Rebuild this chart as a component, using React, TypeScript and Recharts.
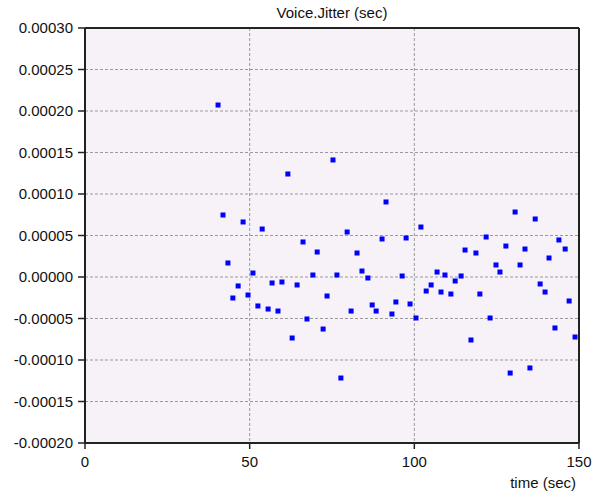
import { ScatterChart, Scatter, XAxis, YAxis, CartesianGrid, ReferenceLine } from 'recharts'

const title = 'Voice.Jitter (sec)'
const xLabel = 'time (sec)'

const xTicks = [0, 50, 100, 150]
const yTicks = [-0.0002, -0.00015, -0.0001, -0.00005, 0, 0.00005, 0.0001, 0.00015, 0.0002, 0.00025, 0.0003]

// time (sec)
const times = [
  40.4, 41.9, 43.4, 44.9, 46.5, 48.0, 49.5, 51.0, 52.5, 53.8,
  55.6, 56.8, 58.6, 59.8, 61.6, 62.9, 64.4, 66.2, 67.4, 69.2,
  70.5, 72.3, 73.5, 75.3, 76.5, 77.7, 79.6, 80.8, 82.6, 84.1,
  85.9, 87.2, 88.4, 90.2, 91.4, 93.2, 94.4, 96.3, 97.5, 98.7,
  100.5, 102.0, 103.6, 105.1, 106.9, 108.1, 109.3, 111.1, 112.4, 114.2,
  115.4, 117.2, 118.7, 119.9, 121.8, 123.0, 124.8, 126.0, 127.8, 129.1,
  130.6, 132.1, 133.6, 135.1, 136.7, 138.2, 139.7, 140.9, 142.7, 143.9,
  145.8, 147.0, 148.8,
]

// jitter (sec)
const jitter = [
  0.0002072, 0.0000747, 0.0000169, -0.0000253, -0.0000108, 0.0000663, -0.0000217, 0.0000048, -0.0000349, 0.0000578,
  -0.0000386, -0.0000072, -0.000041, -0.000006, 0.0001241, -0.0000735, -0.0000096, 0.0000422, -0.0000506, 0.0000024,
  0.0000301, -0.0000627, -0.0000229, 0.000141, 0.0000024, -0.0001217, 0.0000542, -0.000041, 0.0000289, 0.0000072,
  -0.0000012, -0.0000337, -0.000041, 0.0000458, 0.0000904, -0.0000446, -0.0000301, 0.0000012, 0.000047, -0.0000325,
  -0.0000494, 0.0000602, -0.0000169, -0.0000096, 0.000006, -0.0000181, 0.0000024, -0.0000205, -0.0000048, 0.0000012,
  0.0000325, -0.0000759, 0.0000289, -0.0000205, 0.0000482, -0.0000494, 0.0000145, 0.000006, 0.0000373, -0.0001157,
  0.0000783, 0.0000145, 0.0000337, -0.0001096, 0.0000699, -0.0000084, -0.0000181, 0.0000229, -0.0000614, 0.0000446,
  0.0000337, -0.0000289, -0.0000723,
]

const data = times.map((t, i) => ({ t, v: jitter[i] }))

const FONT = '"Liberation Sans", Arial, sans-serif'
const tickStyle = { fontSize: 15, fill: '#111', fontFamily: FONT }

function SquareDot(props: any) {
  const { cx, cy } = props
  if (cx == null || cy == null) return null
  return <rect x={cx - 2.5} y={cy - 2.5} width={5} height={5} fill="#0000FF" />
}

export default function App() {
  return (
    <div style={{ position: 'absolute', left: 0, top: 0, width: 597, height: 491, background: '#fff', fontFamily: FONT }}>
      <div
        style={{
          position: 'absolute',
          left: 85,
          top: 4,
          width: 494,
          textAlign: 'center',
          fontSize: 15,
          color: '#111',
          lineHeight: '17px',
        }}
      >
        {title}
      </div>
      <ScatterChart width={597} height={491} margin={{ top: 28, right: 18, left: 0, bottom: 0 }}>
        <CartesianGrid fill="#F6F2F7" stroke="#9A9A9A" strokeDasharray="3 2" />
        <XAxis
          type="number"
          dataKey="t"
          domain={[0, 150]}
          ticks={xTicks}
          allowDataOverflow
          height={48}
          tickSize={6}
          tickMargin={7}
          tick={tickStyle}
          axisLine={{ stroke: '#222', strokeWidth: 2 }}
          tickLine={{ stroke: '#222', strokeWidth: 1.5 }}
          label={{ value: xLabel, position: 'insideBottomRight', offset: 3, style: { fontSize: 15, fill: '#111', fontFamily: FONT } }}
        />
        <YAxis
          type="number"
          dataKey="v"
          domain={[-0.0002, 0.0003]}
          ticks={yTicks}
          allowDataOverflow
          width={85}
          tickSize={7}
          tickMargin={5}
          tick={tickStyle}
          tickFormatter={(v: number) => v.toFixed(5)}
          axisLine={{ stroke: '#222', strokeWidth: 2 }}
          tickLine={{ stroke: '#222', strokeWidth: 1.5 }}
        />
        <ReferenceLine y={0.0003} stroke="#222" strokeWidth={2} />
        <ReferenceLine x={150} stroke="#222" strokeWidth={2} />
        <Scatter data={data} shape={SquareDot} isAnimationActive={false} />
      </ScatterChart>
    </div>
  )
}
